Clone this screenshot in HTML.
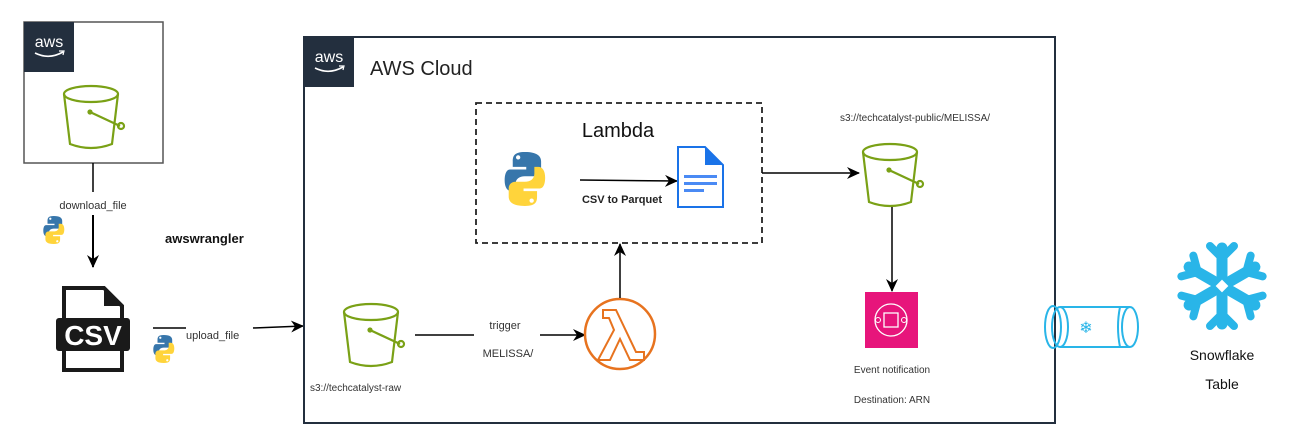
<!DOCTYPE html>
<html><head><meta charset="utf-8"><style>
body{margin:0;background:#fff;}
svg{display:block;font-family:"Liberation Sans",sans-serif;}
</style></head><body>
<svg width="1308" height="446" viewBox="0 0 1308 446" xmlns="http://www.w3.org/2000/svg">
<defs>
<marker id="ah" markerWidth="13" markerHeight="12" refX="12" refY="6" orient="auto" markerUnits="userSpaceOnUse">
<path d="M0,0 L13,6 L0,12 L4,6 Z" fill="#000"/></marker>
<g id="bucket" fill="none" stroke="#7aa116" stroke-width="2.2">
<ellipse cx="28" cy="10" rx="27" ry="8"/>
<path d="M1,10 L7,60 Q28,68 49,60 L55,10"/>
<path d="M27,28 L57,42"/><circle cx="58" cy="42" r="3"/><circle cx="27" cy="28" r="1.5" fill="#7aa116"/>
</g>
<g id="py">
<path d="M14,0 C6,0 5,3 5,7 V11 H15 V13 H3 C0,13 -1,17 -1,21 C-1,26 1,29 4,29 H7 V24 C7,20 10,18 14,18 H21 C24,18 26,16 26,13 V7 C26,3 23,0 14,0Z" fill="#3776ab"/>
<path d="M14,40 C22,40 23,37 23,33 V29 H13 V27 H25 C28,27 29,23 29,19 C29,14 27,11 24,11 H21 V16 C21,20 18,22 14,22 H7 C4,22 2,24 2,27 V33 C2,37 5,40 14,40Z" fill="#ffd43b"/>
<circle cx="9" cy="4" r="1.6" fill="#fff"/><circle cx="19" cy="36" r="1.6" fill="#fff"/>
</g>
<g id="awslogo">
<rect width="50" height="50" fill="#232f3e"/>
<text x="25" y="25" fill="#fff" font-size="16" text-anchor="middle">aws</text>
<path d="M11,31 Q25,38 39,30" stroke="#fff" stroke-width="1.6" fill="none"/>
<path d="M35,29 L40,29 L39,33" stroke="#fff" stroke-width="1.2" fill="none"/>
</g>
</defs>

<!-- left box -->
<rect x="24" y="22" width="139" height="141" fill="none" stroke="#555" stroke-width="1.5"/>
<use href="#awslogo" x="24" y="22"/>
<use href="#bucket" x="63" y="84"/>
<line x1="93" y1="163" x2="93" y2="192" stroke="#000" stroke-width="1.5"/>
<text x="93" y="209" font-size="11" fill="#333" text-anchor="middle">download_file</text>
<line x1="93" y1="215" x2="93" y2="267" stroke="#000" stroke-width="2" marker-end="url(#ah)"/>
<use href="#py" transform="translate(44,216) scale(0.7)"/>
<text x="165" y="243" font-size="13" font-weight="bold" fill="#111">awswrangler</text>

<!-- CSV -->
<path d="M64,288 H104 L122,306 V370 H64 Z" fill="#fff" stroke="#1a1a1a" stroke-width="4"/>
<path d="M104,288 V306 H122 Z" fill="#1a1a1a"/>
<rect x="56" y="318" width="74" height="33" rx="3" fill="#1a1a1a"/>
<text x="93" y="345" font-size="28" font-weight="bold" fill="#fff" text-anchor="middle">CSV</text>

<!-- upload -->
<line x1="153" y1="328" x2="186" y2="328" stroke="#000" stroke-width="1.5"/>
<text x="186" y="339" font-size="11" fill="#333">upload_file</text>
<line x1="253" y1="328" x2="303" y2="326" stroke="#000" stroke-width="1.5" marker-end="url(#ah)"/>
<use href="#py" transform="translate(154,335) scale(0.7)"/>

<!-- AWS cloud -->
<rect x="304" y="37" width="751" height="386" fill="none" stroke="#232f3e" stroke-width="2"/>
<use href="#awslogo" x="304" y="37"/>
<text x="370" y="75" font-size="20" fill="#222">AWS Cloud</text>

<!-- raw bucket -->
<use href="#bucket" x="343" y="302"/>
<text x="310" y="391" font-size="10" fill="#333">s3://techcatalyst-raw</text>
<line x1="415" y1="335" x2="474" y2="335" stroke="#000" stroke-width="1.5"/>
<text x="505" y="329" font-size="11" fill="#333" text-anchor="middle">trigger</text>
<text x="508" y="357" font-size="11" fill="#333" text-anchor="middle">MELISSA/</text>
<line x1="540" y1="335" x2="585" y2="335" stroke="#000" stroke-width="1.5" marker-end="url(#ah)"/>

<!-- lambda -->
<circle cx="620" cy="334" r="35" fill="none" stroke="#e7731f" stroke-width="2.5"/>
<path d="M603,310 H616 L636,352 H644 V360 H630 L620,339 L610,360 H598 L614,330 L609,318 H603 Z" fill="none" stroke="#e7731f" stroke-width="2"/>
<line x1="620" y1="298" x2="620" y2="244" stroke="#000" stroke-width="1.5" marker-end="url(#ah)"/>

<!-- dashed lambda box -->
<rect x="476" y="103" width="286" height="140" fill="none" stroke="#222" stroke-width="1.8" stroke-dasharray="6,4"/>
<text x="618" y="137" font-size="20" fill="#111" text-anchor="middle">Lambda</text>
<use href="#py" transform="translate(506,152) scale(1.35)"/>
<line x1="580" y1="180" x2="677" y2="181" stroke="#000" stroke-width="1.5" marker-end="url(#ah)"/>
<text x="622" y="203" font-size="11" font-weight="bold" fill="#222" text-anchor="middle">CSV to Parquet</text>
<path d="M678,147 H705 L723,165 V207 H678 Z" fill="#fff" stroke="#1a73e8" stroke-width="2"/>
<path d="M705,147 L723,165 H705 Z" fill="#1a73e8"/>
<rect x="684" y="175" width="33" height="3" fill="#4a8af4"/>
<rect x="684" y="182" width="33" height="3" fill="#4a8af4"/>
<rect x="684" y="189" width="20" height="3" fill="#4a8af4"/>

<!-- to public bucket -->
<line x1="762" y1="173" x2="859" y2="173" stroke="#000" stroke-width="1.5" marker-end="url(#ah)"/>
<text x="915" y="121" font-size="10" fill="#333" text-anchor="middle">s3://techcatalyst-public/MELISSA/</text>
<use href="#bucket" x="862" y="142"/>
<line x1="892" y1="207" x2="892" y2="291" stroke="#000" stroke-width="1.5" marker-end="url(#ah)"/>

<!-- SNS -->
<rect x="865" y="292" width="53" height="56" fill="#e7157b"/>
<circle cx="891" cy="320" r="16" fill="none" stroke="#fff" stroke-width="1.3"/>
<rect x="884" y="313" width="14" height="14" fill="none" stroke="#fff" stroke-width="1.3"/>
<circle cx="878" cy="320" r="2.5" fill="none" stroke="#fff"/><circle cx="904" cy="320" r="2.5" fill="none" stroke="#fff"/>
<text x="892" y="373" font-size="10" fill="#333" text-anchor="middle">Event notification</text>
<text x="892" y="403" font-size="10" fill="#333" text-anchor="middle">Destination: ARN</text>

<!-- pipe -->
<g fill="none" stroke="#29b5e8" stroke-width="2">
<ellipse cx="1053" cy="327" rx="8" ry="21"/>
<ellipse cx="1060" cy="327" rx="8" ry="20"/>
<path d="M1060,307 H1130 M1060,347 H1130"/>
<ellipse cx="1130" cy="327" rx="8" ry="20"/>
<path d="M1120,307 Q1116,327 1120,347"/>
</g>
<text x="1086" y="333" font-size="16" fill="#29b5e8" text-anchor="middle">❄</text>

<!-- snowflake -->
<g stroke="#29b5e8" stroke-width="11" stroke-linecap="round" fill="none" transform="translate(1222,286)">
<g id="arm"><path d="M0,-10 V-38"/><path d="M-12,-40 L0,-28 L12,-40" stroke-width="8"/></g>
<use href="#arm" transform="rotate(60)"/><use href="#arm" transform="rotate(120)"/>
<use href="#arm" transform="rotate(180)"/><use href="#arm" transform="rotate(240)"/><use href="#arm" transform="rotate(300)"/>
</g>
<rect x="1216" y="280" width="12" height="12" fill="#fff" stroke="#29b5e8" stroke-width="3" transform="rotate(45 1222 286)"/>
<text x="1222" y="360" font-size="14" fill="#111" text-anchor="middle">Snowflake</text>
<text x="1222" y="389" font-size="14" fill="#111" text-anchor="middle">Table</text>
</svg>
</body></html>
